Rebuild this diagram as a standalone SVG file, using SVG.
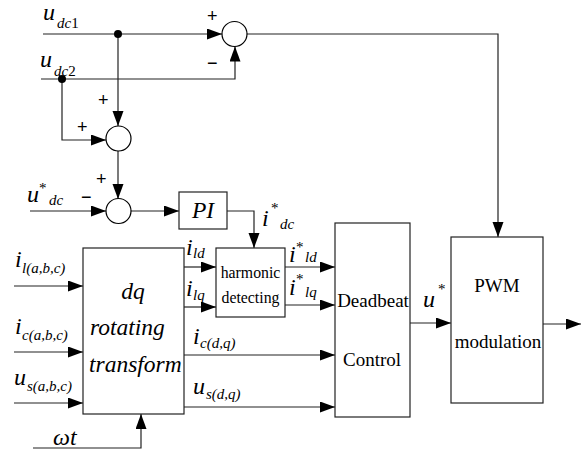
<svg xmlns="http://www.w3.org/2000/svg" width="588" height="454" viewBox="0 0 588 454">
  <defs>
    <marker id="arrow" markerUnits="userSpaceOnUse" markerWidth="16" markerHeight="12" refX="15" refY="5.5" orient="auto">
      <path d="M0,0 L15,5.5 L0,11 Z" fill="#000"/>
    </marker>
    <style>
      .ln { fill: none; stroke: #222; stroke-width: 1.2; }
      .arr { marker-end: url(#arrow); }
      .box { fill: #fff; stroke: #222; stroke-width: 1.2; }
      .sum { fill: #fff; stroke: #000; stroke-width: 1.2; }
      .dot { fill: #000; }
      .m { font-style: italic; font-size: 24px; }
      .s { font-style: italic; font-size: 15px; }
      .n { font-style: normal; }
      .sign { font-size: 18px; }
      .t { font-size: 19px; text-anchor: middle; }
      .th { font-size: 15.8px; text-anchor: middle; }
      .mt { font-style: italic; font-size: 23.5px; }
    </style>
  </defs>

  <!-- signal connectors -->
  <g id="connectors">
    <!-- udc1 to first summing junction, then on to PWM -->
    <path class="ln arr" d="M43,34 H222"/>
    <path class="ln arr" d="M247,34 H498 V237"/>
    <!-- udc2 to first summing junction -->
    <path class="ln arr" d="M41,79 H235 V46.5"/>
    <!-- branches into second summing junction -->
    <path class="ln arr" d="M118,34 V126"/>
    <path class="ln arr" d="M62,79 V140 H106"/>
    <!-- second junction to third -->
    <path class="ln arr" d="M118,151 V199"/>
    <!-- u*dc into third junction -->
    <path class="ln arr" d="M30,211 H106"/>
    <!-- third junction to PI -->
    <path class="ln arr" d="M131,211 H179"/>
    <!-- PI output to harmonic detecting -->
    <path class="ln arr" d="M227,211 H254 V248"/>
    <!-- inputs of dq transform -->
    <path class="ln arr" d="M14,286 H83"/>
    <path class="ln arr" d="M14,352 H83"/>
    <path class="ln arr" d="M14,403 H83"/>
    <path class="ln arr" d="M33,448 H141 V414"/>
    <!-- outputs of dq transform -->
    <path class="ln arr" d="M184,267 H216"/>
    <path class="ln arr" d="M184,307 H216"/>
    <path class="ln arr" d="M184,355 H335"/>
    <path class="ln arr" d="M184,407 H335"/>
    <!-- harmonic detecting to deadbeat -->
    <path class="ln arr" d="M285,267 H335"/>
    <path class="ln arr" d="M285,305 H335"/>
    <!-- deadbeat to PWM -->
    <path class="ln arr" d="M410,323 H451"/>
    <!-- PWM output -->
    <path class="ln arr" d="M543,324 H581"/>
    <!-- branch points -->
    <circle class="dot" cx="118" cy="34" r="4"/>
    <circle class="dot" cx="62" cy="79" r="4"/>
  </g>

  <g font-family="'Liberation Serif', 'Times New Roman', 'DejaVu Serif', serif" fill="#000">
    <!-- summing junctions -->
    <g id="sum1">
      <circle class="sum" cx="234.5" cy="34" r="12.5"/>
      <text class="sign" x="207" y="22" font-family="Liberation Sans, sans-serif">+</text>
      <text class="sign" x="207" y="69" font-family="Liberation Sans, sans-serif">−</text>
    </g>
    <g id="sum2">
      <circle class="sum" cx="118.5" cy="138.5" r="12.5"/>
      <text class="sign" x="98" y="106" font-family="Liberation Sans, sans-serif">+</text>
      <text class="sign" x="77" y="133" font-family="Liberation Sans, sans-serif">+</text>
    </g>
    <g id="sum3">
      <circle class="sum" cx="118.5" cy="211" r="12.5"/>
      <text class="sign" x="96" y="185" font-family="Liberation Sans, sans-serif">+</text>
      <text class="sign" x="81" y="203" font-family="Liberation Sans, sans-serif">−</text>
    </g>

    <!-- PI controller -->
    <g id="pi">
      <rect class="box" x="179" y="192" width="48" height="37"/>
      <text class="mt" x="203" y="218" font-size="29" text-anchor="middle">PI</text>
    </g>

    <!-- dq rotating transform -->
    <g id="dq">
      <rect class="box" x="83" y="248" width="101" height="166"/>
      <text class="mt" x="133" y="299" text-anchor="middle">dq</text>
      <text class="mt" x="90" y="335">rotating</text>
      <text class="mt" x="89" y="372">transform</text>
    </g>

    <!-- harmonic detecting -->
    <g id="harmonic">
      <rect class="box" x="216" y="248" width="69" height="69"/>
      <text class="th" x="250.5" y="278">harmonic</text>
      <text class="th" x="250.5" y="303">detecting</text>
    </g>

    <!-- deadbeat control -->
    <g id="deadbeat">
      <rect class="box" x="335" y="223" width="75" height="194"/>
      <text class="t" x="373" y="307">Deadbeat</text>
      <text class="t" x="372" y="366">Control</text>
    </g>

    <!-- PWM modulation -->
    <g id="pwm">
      <rect class="box" x="451" y="237" width="92" height="166"/>
      <text class="t" x="497" y="292">PWM</text>
      <text class="t" x="498" y="348">modulation</text>
    </g>

    <!-- signal labels -->
    <g id="labels">
      <text class="m" x="43" y="20">u</text>
      <text class="s" x="57" y="28">dc<tspan class="n">1</tspan></text>

      <text class="m" x="40" y="67">u</text>
      <text class="s" x="54" y="76">dc<tspan class="n">2</tspan></text>

      <text class="m" x="27" y="202">u</text>
      <text class="s n" x="39" y="193">*</text>
      <text class="s" x="49" y="205">dc</text>

      <text class="m" x="262" y="226">i</text>
      <text class="s n" x="271" y="213">*</text>
      <text class="s" x="280" y="229">dc</text>

      <text class="m" x="15" y="267">i</text>
      <text class="s" x="22" y="273">l(a,b,c)</text>

      <text class="m" x="15" y="334">i</text>
      <text class="s" x="22" y="340">c(a,b,c)</text>

      <text class="m" x="14" y="385">u</text>
      <text class="s" x="27" y="391">s(a,b,c)</text>

      <text class="m" x="53" y="445">ωt</text>

      <text class="m" x="186" y="255">i</text>
      <text class="s" x="193" y="258">ld</text>

      <text class="m" x="186" y="296">i</text>
      <text class="s" x="193" y="300">lq</text>

      <text class="m" x="193" y="344">i</text>
      <text class="s" x="200" y="348">c(d,q)</text>

      <text class="m" x="193" y="394">u</text>
      <text class="s" x="206" y="399">s(d,q)</text>

      <text class="m" x="289" y="262">i</text>
      <text class="s n" x="296" y="252">*</text>
      <text class="s" x="305" y="262">ld</text>

      <text class="m" x="289" y="295">i</text>
      <text class="s n" x="296" y="284">*</text>
      <text class="s" x="305" y="297">lq</text>

      <text class="m" x="423" y="307">u</text>
      <text class="s n" x="438" y="294">*</text>
    </g>
  </g>
</svg>
